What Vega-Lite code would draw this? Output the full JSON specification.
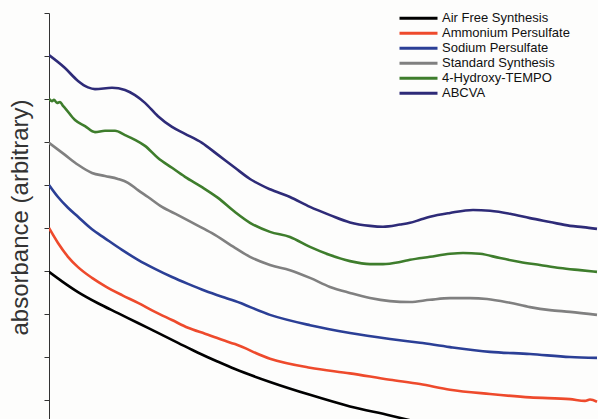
{
  "$schema": "https://vega.github.io/schema/vega-lite/v6.json",
  "width": 549,
  "height": 408.5,
  "autosize": {"type": "none"},
  "padding": {"left": 49, "top": 13, "right": 0, "bottom": 0},
  "background": "#fdfdfc",
  "config": {"view": {"stroke": null}},
  "datasets": {
    "spectra": [
      {"s":"ABCVA","x":350,"y":9.02},{"s":"ABCVA","x":366,"y":8.72},{"s":"ABCVA","x":379,"y":8.42},{"s":"ABCVA","x":389,"y":8.27},{"s":"ABCVA","x":396,"y":8.23},{"s":"ABCVA","x":413,"y":8.26},{"s":"ABCVA","x":426,"y":8.21},{"s":"ABCVA","x":436,"y":8.09},{"s":"ABCVA","x":446,"y":7.91},{"s":"ABCVA","x":459,"y":7.60},{"s":"ABCVA","x":473,"y":7.35},{"s":"ABCVA","x":486,"y":7.19},{"s":"ABCVA","x":503,"y":6.98},{"s":"ABCVA","x":519,"y":6.70},{"s":"ABCVA","x":536,"y":6.40},{"s":"ABCVA","x":551,"y":6.14},{"s":"ABCVA","x":571,"y":5.90},{"s":"ABCVA","x":591,"y":5.72},{"s":"ABCVA","x":611,"y":5.49},{"s":"ABCVA","x":631,"y":5.30},{"s":"ABCVA","x":651,"y":5.13},{"s":"ABCVA","x":671,"y":5.05},{"s":"ABCVA","x":684,"y":5.03},{"s":"ABCVA","x":701,"y":5.08},{"s":"ABCVA","x":711,"y":5.12},{"s":"ABCVA","x":721,"y":5.19},{"s":"ABCVA","x":731,"y":5.26},{"s":"ABCVA","x":751,"y":5.35},{"s":"ABCVA","x":774,"y":5.42},{"s":"ABCVA","x":791,"y":5.40},{"s":"ABCVA","x":811,"y":5.33},{"s":"ABCVA","x":831,"y":5.23},{"s":"ABCVA","x":851,"y":5.14},{"s":"ABCVA","x":871,"y":5.05},{"s":"ABCVA","x":884,"y":5.02},{"s":"ABCVA","x":898,"y":4.98},
      {"s":"4-Hydroxy-TEMPO","x":350,"y":8.00},{"s":"4-Hydroxy-TEMPO","x":353,"y":7.95},{"s":"4-Hydroxy-TEMPO","x":355,"y":7.98},{"s":"4-Hydroxy-TEMPO","x":358,"y":7.91},{"s":"4-Hydroxy-TEMPO","x":361,"y":7.93},{"s":"4-Hydroxy-TEMPO","x":364,"y":7.84},{"s":"4-Hydroxy-TEMPO","x":366,"y":7.79},{"s":"4-Hydroxy-TEMPO","x":376,"y":7.51},{"s":"4-Hydroxy-TEMPO","x":386,"y":7.37},{"s":"4-Hydroxy-TEMPO","x":396,"y":7.23},{"s":"4-Hydroxy-TEMPO","x":406,"y":7.26},{"s":"4-Hydroxy-TEMPO","x":416,"y":7.26},{"s":"4-Hydroxy-TEMPO","x":426,"y":7.16},{"s":"4-Hydroxy-TEMPO","x":436,"y":7.05},{"s":"4-Hydroxy-TEMPO","x":446,"y":6.91},{"s":"4-Hydroxy-TEMPO","x":459,"y":6.63},{"s":"4-Hydroxy-TEMPO","x":473,"y":6.40},{"s":"4-Hydroxy-TEMPO","x":486,"y":6.19},{"s":"4-Hydroxy-TEMPO","x":503,"y":5.95},{"s":"4-Hydroxy-TEMPO","x":519,"y":5.70},{"s":"4-Hydroxy-TEMPO","x":536,"y":5.37},{"s":"4-Hydroxy-TEMPO","x":551,"y":5.12},{"s":"4-Hydroxy-TEMPO","x":571,"y":4.91},{"s":"4-Hydroxy-TEMPO","x":591,"y":4.79},{"s":"4-Hydroxy-TEMPO","x":611,"y":4.56},{"s":"4-Hydroxy-TEMPO","x":631,"y":4.37},{"s":"4-Hydroxy-TEMPO","x":651,"y":4.23},{"s":"4-Hydroxy-TEMPO","x":671,"y":4.16},{"s":"4-Hydroxy-TEMPO","x":684,"y":4.16},{"s":"4-Hydroxy-TEMPO","x":701,"y":4.21},{"s":"4-Hydroxy-TEMPO","x":711,"y":4.26},{"s":"4-Hydroxy-TEMPO","x":731,"y":4.33},{"s":"4-Hydroxy-TEMPO","x":751,"y":4.40},{"s":"4-Hydroxy-TEMPO","x":764,"y":4.42},{"s":"4-Hydroxy-TEMPO","x":781,"y":4.40},{"s":"4-Hydroxy-TEMPO","x":801,"y":4.30},{"s":"4-Hydroxy-TEMPO","x":821,"y":4.21},{"s":"4-Hydroxy-TEMPO","x":841,"y":4.14},{"s":"4-Hydroxy-TEMPO","x":861,"y":4.07},{"s":"4-Hydroxy-TEMPO","x":881,"y":4.02},{"s":"4-Hydroxy-TEMPO","x":898,"y":3.98},
      {"s":"Standard Synthesis","x":350,"y":6.98},{"s":"Standard Synthesis","x":366,"y":6.70},{"s":"Standard Synthesis","x":379,"y":6.47},{"s":"Standard Synthesis","x":393,"y":6.28},{"s":"Standard Synthesis","x":406,"y":6.21},{"s":"Standard Synthesis","x":419,"y":6.14},{"s":"Standard Synthesis","x":429,"y":6.05},{"s":"Standard Synthesis","x":439,"y":5.88},{"s":"Standard Synthesis","x":449,"y":5.72},{"s":"Standard Synthesis","x":463,"y":5.49},{"s":"Standard Synthesis","x":479,"y":5.30},{"s":"Standard Synthesis","x":496,"y":5.09},{"s":"Standard Synthesis","x":513,"y":4.88},{"s":"Standard Synthesis","x":536,"y":4.54},{"s":"Standard Synthesis","x":551,"y":4.33},{"s":"Standard Synthesis","x":571,"y":4.14},{"s":"Standard Synthesis","x":591,"y":4.02},{"s":"Standard Synthesis","x":611,"y":3.84},{"s":"Standard Synthesis","x":631,"y":3.63},{"s":"Standard Synthesis","x":651,"y":3.49},{"s":"Standard Synthesis","x":671,"y":3.37},{"s":"Standard Synthesis","x":691,"y":3.30},{"s":"Standard Synthesis","x":711,"y":3.28},{"s":"Standard Synthesis","x":731,"y":3.33},{"s":"Standard Synthesis","x":751,"y":3.37},{"s":"Standard Synthesis","x":771,"y":3.37},{"s":"Standard Synthesis","x":788,"y":3.35},{"s":"Standard Synthesis","x":811,"y":3.26},{"s":"Standard Synthesis","x":831,"y":3.16},{"s":"Standard Synthesis","x":851,"y":3.09},{"s":"Standard Synthesis","x":871,"y":3.05},{"s":"Standard Synthesis","x":898,"y":2.98},
      {"s":"Sodium Persulfate","x":350,"y":6.00},{"s":"Sodium Persulfate","x":359,"y":5.72},{"s":"Sodium Persulfate","x":369,"y":5.47},{"s":"Sodium Persulfate","x":379,"y":5.26},{"s":"Sodium Persulfate","x":393,"y":4.97},{"s":"Sodium Persulfate","x":406,"y":4.76},{"s":"Sodium Persulfate","x":423,"y":4.49},{"s":"Sodium Persulfate","x":439,"y":4.26},{"s":"Sodium Persulfate","x":456,"y":4.05},{"s":"Sodium Persulfate","x":473,"y":3.86},{"s":"Sodium Persulfate","x":489,"y":3.70},{"s":"Sodium Persulfate","x":506,"y":3.54},{"s":"Sodium Persulfate","x":523,"y":3.40},{"s":"Sodium Persulfate","x":536,"y":3.30},{"s":"Sodium Persulfate","x":571,"y":2.98},{"s":"Sodium Persulfate","x":611,"y":2.74},{"s":"Sodium Persulfate","x":651,"y":2.56},{"s":"Sodium Persulfate","x":691,"y":2.42},{"s":"Sodium Persulfate","x":721,"y":2.33},{"s":"Sodium Persulfate","x":751,"y":2.23},{"s":"Sodium Persulfate","x":791,"y":2.12},{"s":"Sodium Persulfate","x":831,"y":2.07},{"s":"Sodium Persulfate","x":871,"y":2.00},{"s":"Sodium Persulfate","x":898,"y":1.98},
      {"s":"Ammonium Persulfate","x":350,"y":5.00},{"s":"Ammonium Persulfate","x":359,"y":4.65},{"s":"Ammonium Persulfate","x":369,"y":4.33},{"s":"Ammonium Persulfate","x":379,"y":4.09},{"s":"Ammonium Persulfate","x":393,"y":3.84},{"s":"Ammonium Persulfate","x":406,"y":3.65},{"s":"Ammonium Persulfate","x":423,"y":3.44},{"s":"Ammonium Persulfate","x":439,"y":3.26},{"s":"Ammonium Persulfate","x":456,"y":3.05},{"s":"Ammonium Persulfate","x":473,"y":2.86},{"s":"Ammonium Persulfate","x":489,"y":2.68},{"s":"Ammonium Persulfate","x":506,"y":2.54},{"s":"Ammonium Persulfate","x":523,"y":2.40},{"s":"Ammonium Persulfate","x":536,"y":2.30},{"s":"Ammonium Persulfate","x":571,"y":1.96},{"s":"Ammonium Persulfate","x":611,"y":1.75},{"s":"Ammonium Persulfate","x":651,"y":1.62},{"s":"Ammonium Persulfate","x":691,"y":1.47},{"s":"Ammonium Persulfate","x":721,"y":1.37},{"s":"Ammonium Persulfate","x":751,"y":1.24},{"s":"Ammonium Persulfate","x":791,"y":1.14},{"s":"Ammonium Persulfate","x":831,"y":1.06},{"s":"Ammonium Persulfate","x":871,"y":1.02},{"s":"Ammonium Persulfate","x":886,"y":0.98},{"s":"Ammonium Persulfate","x":891,"y":1.01},{"s":"Ammonium Persulfate","x":898,"y":0.96},
      {"s":"Air Free Synthesis","x":350,"y":3.98},{"s":"Air Free Synthesis","x":363,"y":3.76},{"s":"Air Free Synthesis","x":379,"y":3.51},{"s":"Air Free Synthesis","x":399,"y":3.25},{"s":"Air Free Synthesis","x":419,"y":3.02},{"s":"Air Free Synthesis","x":439,"y":2.79},{"s":"Air Free Synthesis","x":459,"y":2.56},{"s":"Air Free Synthesis","x":479,"y":2.33},{"s":"Air Free Synthesis","x":499,"y":2.10},{"s":"Air Free Synthesis","x":519,"y":1.89},{"s":"Air Free Synthesis","x":536,"y":1.72},{"s":"Air Free Synthesis","x":571,"y":1.42},{"s":"Air Free Synthesis","x":611,"y":1.12},{"s":"Air Free Synthesis","x":651,"y":0.85},{"s":"Air Free Synthesis","x":691,"y":0.64},{"s":"Air Free Synthesis","x":721,"y":0.47},{"s":"Air Free Synthesis","x":751,"y":0.30},{"s":"Air Free Synthesis","x":801,"y":0.07},{"s":"Air Free Synthesis","x":851,"y":-0.12},{"s":"Air Free Synthesis","x":898,"y":-0.30}
    ]
  },
  "data": {"name": "spectra"},
  "mark": {"type": "line", "strokeWidth": 2.6, "clip": true, "interpolate": "monotone"},
  "encoding": {
    "x": {"field": "x", "type": "quantitative", "scale": {"domain": [350, 899], "nice": false, "zero": false}, "axis": null},
    "y": {
      "field": "y", "type": "quantitative",
      "scale": {"domain": [0.5, 10], "nice": false, "zero": false},
      "axis": {
        "values": [1,2,3,4,5,6,7,8,9,10],
        "labels": false, "grid": false,
        "tickSize": 5, "tickWidth": 1, "tickColor": "#333333",
        "domainColor": "#333333", "domainWidth": 1,
        "title": "absorbance (arbitrary)",
        "titleFont": "Liberation Sans", "titleFontSize": 24, "titleFontWeight": "normal",
        "titleColor": "#333333",
        "titleAngle": 270, "titleAlign": "center", "titleBaseline": "bottom",
        "titleX": -17, "titleY": 204
      }
    },
    "color": {
      "field": "s", "type": "nominal",
      "scale": {
        "domain": ["Air Free Synthesis", "Ammonium Persulfate", "Sodium Persulfate", "Standard Synthesis", "4-Hydroxy-TEMPO", "ABCVA"],
        "range": ["#000000", "#ee4a2c", "#2b3f96", "#808080", "#3e7d2c", "#2e2b78"]
      },
      "legend": {
        "title": null, "orient": "none", "legendX": 349, "legendY": -2,
        "symbolType": "stroke", "symbolSize": 1444, "symbolStrokeWidth": 3,
        "clipHeight": 14.7, "rowPadding": 0, "padding": 0,
        "labelFont": "Liberation Sans", "labelFontSize": 13, "labelColor": "#111111",
        "labelOffset": 3, "labelLimit": 300
      }
    }
  }
}
